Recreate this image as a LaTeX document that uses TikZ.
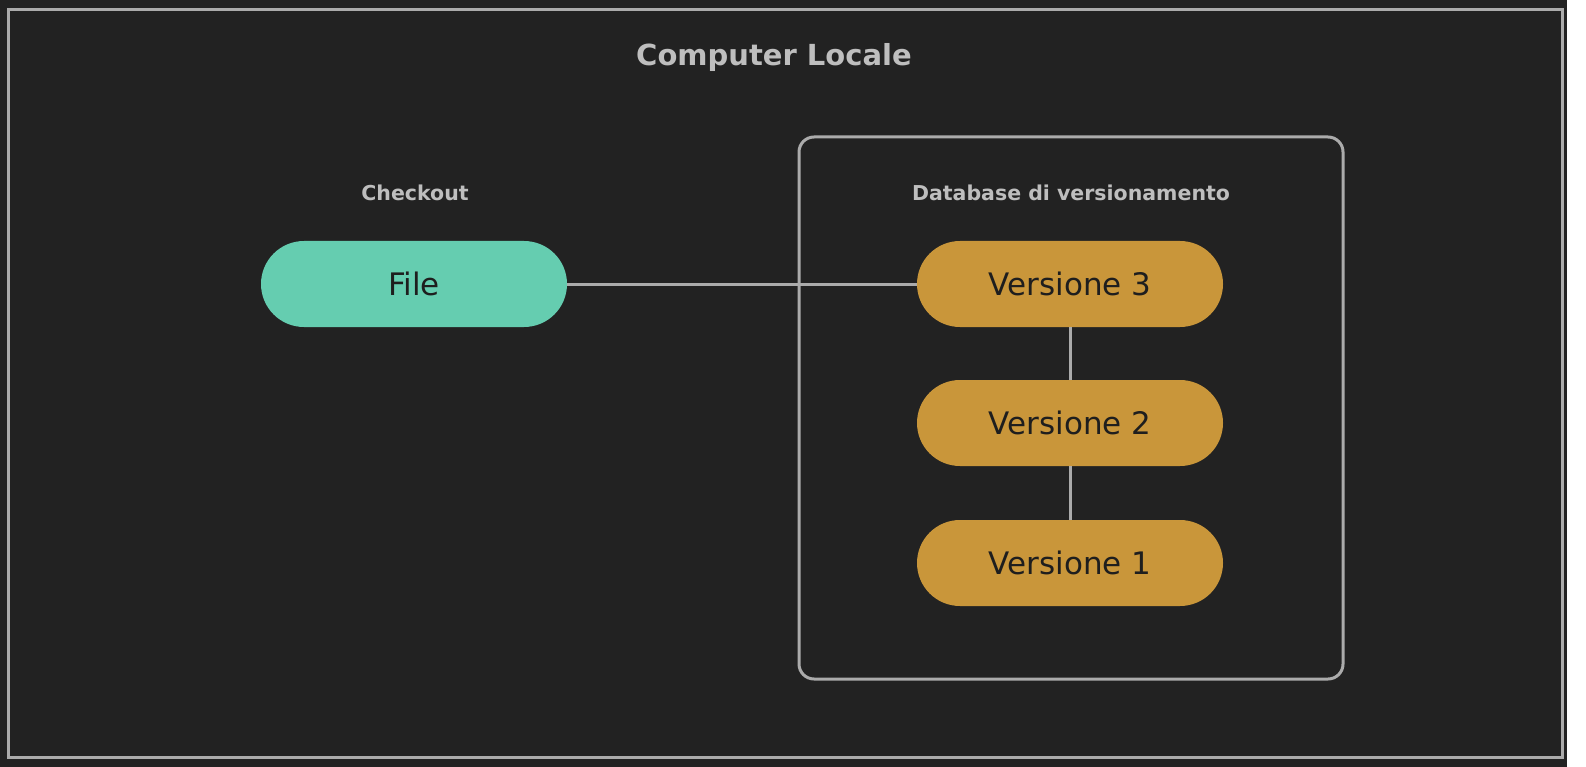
\documentclass[tikz,border=0pt]{standalone}
\usepackage{fontspec}
\setmainfont{DejaVu Sans}
\usepackage{tikz}
\usepackage{xcolor}
\usetikzlibrary{positioning, calc}

\definecolor{bgdark}{HTML}{222222}
\definecolor{linegray}{HTML}{ABABAB}
\definecolor{labelgray}{HTML}{BEBEBE}
\definecolor{filegreen}{HTML}{65CDB0}
\definecolor{versorange}{HTML}{C9963A}
\definecolor{pilltext}{HTML}{1E1E1E}

\tikzset{
    pill/.style={rounded corners=43pt, minimum width=306pt, minimum height=86pt,
        inner sep=0pt, text=pilltext, font=\fontsize{31}{34}\selectfont},
    tag/.style={text=labelgray, font=\bfseries\fontsize{20.5}{24}\selectfont},
    link/.style={draw=linegray, line width=3pt}
}

\begin{document}
\begin{tikzpicture}[x=1pt, y=-1pt]
\useasboundingbox (0,0) rectangle (1586,767);
\fill[bgdark] (0,0) rectangle (1567,767);

% Computer Locale
\draw[linegray, line width=3pt] (8,10) rectangle (1562,757);
\node[text=labelgray, font=\bfseries\fontsize{29}{32}\selectfont] (title) at (774,58) {Computer Locale};

% Checkout
\node[tag] (checkout) at (415,193) {Checkout};
\node[pill, fill=filegreen] (file) at (414,284) {File};

% Database di versionamento
\draw[linegray, line width=3pt, rounded corners=15pt] (799,137) rectangle (1343,679);
\node[tag] (db) at (1071,193) {Database di versionamento};
\foreach \n/\y in {3/284, 2/423, 1/563}
    \node[pill, fill=versorange] (v\n) at (1070,\y) {Versione \n};

\draw[link] (file) -- (v3);
\draw[link] (v3) -- (v2);
\draw[link] (v2) -- (v1);
\end{tikzpicture}
\end{document}
